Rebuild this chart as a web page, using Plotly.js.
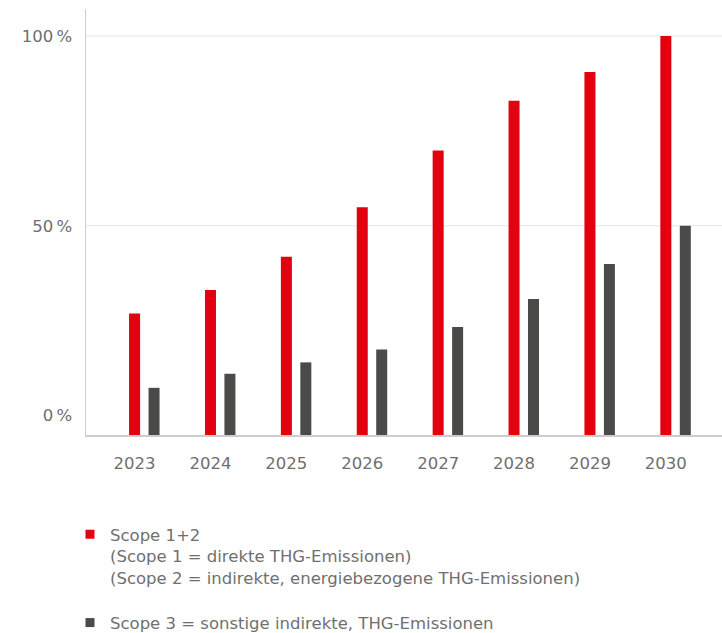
<!DOCTYPE html>
<html>
<head>
<meta charset="utf-8">
<script src="https://cdn.plot.ly/plotly-3.0.1.min.js"></script>
<style>html,body{margin:0;padding:0;background:#fff;}#chart{width:722px;height:633px;}</style>
</head>
<body>
<div id="chart"></div>
<script>
const years = ["2023","2024","2025","2026","2027","2028","2029","2030"];
const scope12 = [26.9, 33.1, 41.8, 54.9, 69.8, 82.9, 90.5, 100];
const scope3 = [7.3, 11.0, 14.0, 17.4, 23.3, 30.7, 39.9, 50];
const yTickVals = [0, 50, 100];
const yTickText = ["0\u2009%", "50\u2009%", "100\u2009%"];
const gridVals = [50, 100];
const name12 = "Scope 1+2<br>(Scope 1 = direkte THG-Emissionen)<br>(Scope 2 = indirekte, energiebezogene THG-Emissionen)";
const name3 = "Scope 3 = sonstige indirekte, THG-Emissionen";

const RED = "#e3000f";
const GRAY = "#4a4a49";
const AXIS_MIN = -5.13;
const FONT = "'DejaVu Sans', 'Open Sans', sans-serif";

const traces = [
  {type: "bar", x: years, y: scope12.map(v => v - AXIS_MIN), base: AXIS_MIN,
   width: 0.145, offset: -0.0725, marker: {color: RED, line: {width: 0}},
   showlegend: false, hoverinfo: "skip"},
  {type: "bar", x: years, y: scope3.map(v => v - AXIS_MIN), base: AXIS_MIN,
   width: 0.145, offset: 0.184, marker: {color: GRAY, line: {width: 0}},
   showlegend: false, hoverinfo: "skip"},
  {type: "scatter", mode: "markers", x: [null], y: [null], name: name12,
   legendgroup: "a", marker: {symbol: "square", size: 9, color: RED}},
  {type: "scatter", mode: "markers", x: [null], y: [null], name: name3,
   legendgroup: "b", marker: {symbol: "square", size: 9, color: GRAY}}
];

const shapes = gridVals.map(v => ({
  type: "line", xref: "paper", yref: "y", x0: 0, x1: 1, y0: v, y1: v,
  line: {color: "#e6e6e6", width: 1}, layer: "below"
}));

const layout = {
  width: 722, height: 633,
  margin: {l: 86, r: 0, t: 9, b: 197.5, autoexpand: false},
  paper_bgcolor: "#fff", plot_bgcolor: "#fff",
  font: {family: FONT, size: 16, color: "#6f6f6f"},
  barmode: "overlay",
  showlegend: true,
  xaxis: {
    type: "category", range: [-0.64, 7.74], fixedrange: true,
    showline: true, linecolor: "#cccccc", linewidth: 1.5,
    showgrid: false, zeroline: false, tickangle: 0, automargin: false,
    ticks: "outside", ticklen: 13, tickcolor: "rgba(0,0,0,0)",
    tickfont: {family: FONT, size: 16.5, color: "#6f6f6f"}
  },
  yaxis: {
    range: [AXIS_MIN, 107.1], fixedrange: true, automargin: false,
    tickvals: yTickVals, ticktext: yTickText,
    showline: true, linecolor: "#cccccc", linewidth: 1.5,
    showgrid: false, zeroline: false,
    ticks: "outside", ticklen: 9, tickcolor: "rgba(0,0,0,0)",
    tickfont: {family: FONT, size: 16.5, color: "#6f6f6f"}
  },
  shapes: shapes,
  legend: {
    xref: "container", yref: "container",
    x: 70/722, y: 1 - 517/633, xanchor: "left", yanchor: "top",
    orientation: "v", valign: "top", tracegroupgap: 21,
    font: {family: FONT, size: 16.5, color: "#6f6f6f"},
    bgcolor: "rgba(0,0,0,0)"
  }
};

Plotly.newPlot("chart", traces, layout, {displayModeBar: false, staticPlot: true});
</script>
</body>
</html>
